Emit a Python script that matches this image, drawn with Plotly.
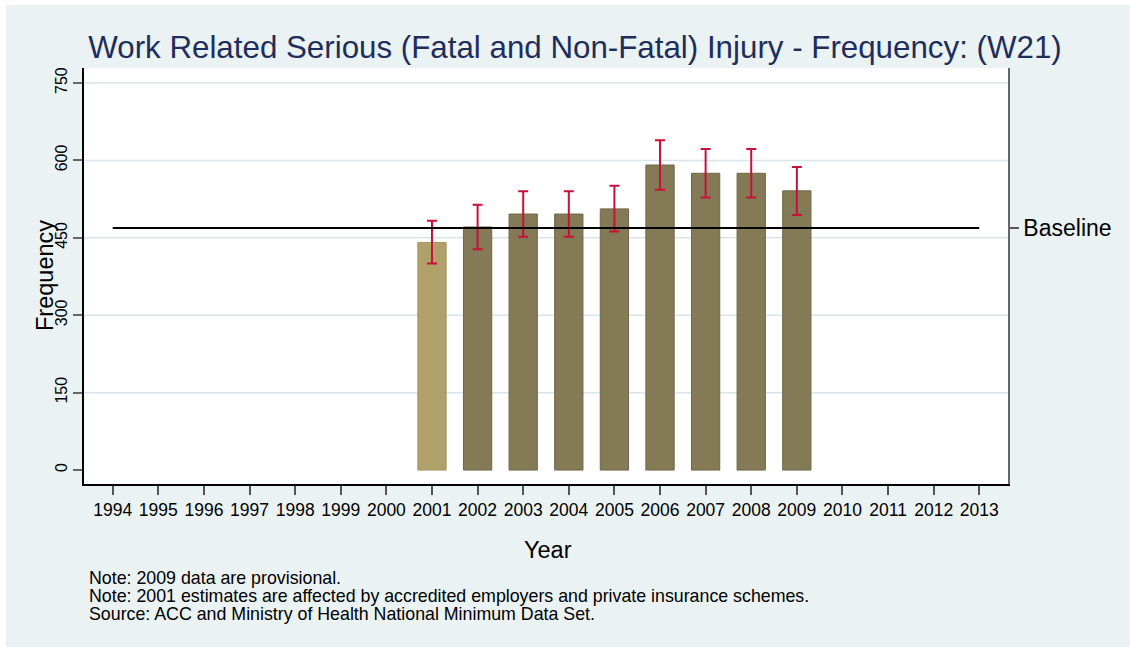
import plotly.graph_objects as go

# data
years = [2001, 2002, 2003, 2004, 2005, 2006, 2007, 2008, 2009]
frequency = [441, 471, 496, 496, 506, 591, 575, 575, 541]
ci_upper = [483, 514, 540, 540, 551, 639, 622, 622, 587]
ci_lower = [400, 428, 452, 452, 462, 543, 528, 528, 494]
baseline = 469
axis_years = list(range(1994, 2014))
y_ticks = [0, 150, 300, 450, 600, 750]
grid_vals = [150, 300, 450, 600, 750]
notes = [
    "Note: 2009 data are provisional.",
    "Note: 2001 estimates are affected by accredited employers and private insurance schemes.",
    "Source: ACC and Ministry of Health National Minimum Data Set.",
]

FONT = "Liberation Sans, Arial, sans-serif"
BG = "#EAF2F3"
GRID = "#D8E6EB"

W, H = 1130, 647
L, R, T, B = 84, 122, 68, 163
pw, ph = W - L - R, H - T - B


def px_x(x):
    return (x - L) / pw


def px_y(y):
    return (H - B - y) / ph


bar_colors = ["#B0A06A" if y == 2001 else "#857A56" for y in years]
bar_lines = ["#A39460" if y == 2001 else "#6F6646" for y in years]

fig = go.Figure()

fig.add_trace(go.Bar(
    x=years,
    y=frequency,
    width=0.62,
    marker=dict(color=bar_colors, line=dict(color=bar_lines, width=1)),
    error_y=dict(
        type="data",
        symmetric=False,
        array=[u - f for u, f in zip(ci_upper, frequency)],
        arrayminus=[f - l for f, l in zip(frequency, ci_lower)],
        color="#C8103A",
        thickness=2,
        width=5,
    ),
    showlegend=False,
))

# baseline line on the right-hand axis
fig.add_trace(go.Scatter(
    x=[axis_years[0], axis_years[-1]],
    y=[baseline, baseline],
    mode="lines",
    line=dict(color="black", width=2),
    yaxis="y2",
    showlegend=False,
))

# backgrounds: outer light blue panel, white plot region
fig.add_shape(type="rect", xref="paper", yref="paper",
              x0=px_x(6), x1=px_x(W), y0=px_y(H), y1=px_y(5),
              fillcolor=BG, line_width=0, layer="below")
fig.add_shape(type="rect", xref="paper", yref="paper",
              x0=0, x1=1, y0=0, y1=1,
              fillcolor="white", line_width=0, layer="below")

for g in grid_vals:
    fig.add_hline(y=g, line_color=GRID, line_width=1.5, layer="below")

fig.update_layout(
    width=W,
    height=H,
    margin=dict(l=L, r=R, t=T, b=B),
    paper_bgcolor="white",
    plot_bgcolor="rgba(0,0,0,0)",
    font=dict(family=FONT, color="black"),
    title=dict(
        text="Work Related Serious (Fatal and Non-Fatal) Injury - Frequency: (W21)",
        font=dict(family=FONT, size=31.3, color="#1F2D5C"),
        x=575 / W, xanchor="center",
        y=1 - 47 / H, yanchor="middle", yref="container",
    ),
    xaxis=dict(
        range=[1993.37, 2013.63],
        tickvals=axis_years,
        ticks="outside", ticklen=9, tickwidth=1.5, tickcolor="#555555",
        tickfont=dict(size=17.5),
        showgrid=False, zeroline=False,
        showline=True, linecolor="black", linewidth=1.5,
    ),
    yaxis=dict(
        range=[-27, 779],
        tickvals=y_ticks,
        tickangle=-90,
        ticks="outside", ticklen=9, tickwidth=1.5, tickcolor="#666666",
        tickfont=dict(size=16),
        showgrid=False, zeroline=False,
        showline=True, linecolor="black", linewidth=1.5,
    ),
    yaxis2=dict(
        range=[-27, 779],
        overlaying="y", side="right",
        tickvals=[baseline], ticktext=["Baseline"],
        ticks="outside", ticklen=9, tickwidth=1.5, tickcolor="#555555",
        tickfont=dict(size=23),
        showgrid=False, zeroline=False,
        showline=True, linecolor="#666666", linewidth=1.5,
    ),
)

fig.add_annotation(text="Frequency", xref="paper", yref="paper",
                   x=px_x(45), y=0.5, textangle=-90, showarrow=False,
                   xanchor="center", yanchor="middle", font=dict(size=23.5))
fig.add_annotation(text="Year", xref="paper", yref="paper",
                   x=px_x(548), y=px_y(550), showarrow=False,
                   xanchor="center", yanchor="middle", font=dict(size=23.5))

for i, note in enumerate(notes):
    fig.add_annotation(text=note, xref="paper", yref="paper",
                       x=px_x(87), y=px_y(578 + 18 * i), showarrow=False,
                       xanchor="left", yanchor="middle", font=dict(size=17.8))

fig.write_html("out.html", config={"displayModeBar": False},
               post_script="document.body.style.margin='0';")
